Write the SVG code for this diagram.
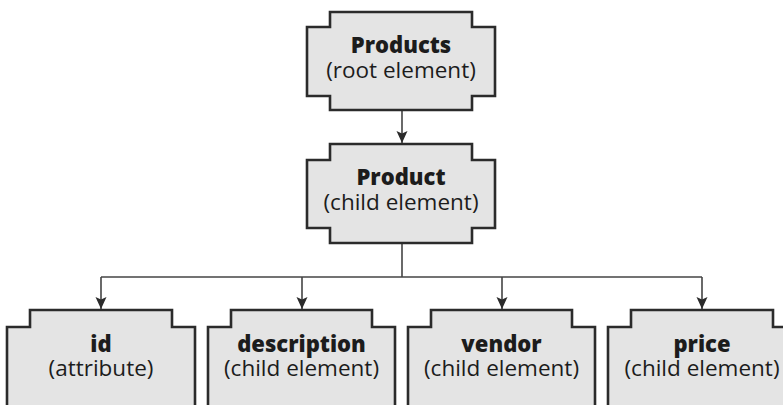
<svg xmlns="http://www.w3.org/2000/svg" width="783" height="405" viewBox="0 0 783 405">
  <defs>
    <style>
      .node { fill: #e4e4e4; stroke: #2b2b2b; stroke-width: 2.6; stroke-linejoin: miter; }
      .title { font-family: "Open Sans", "Noto Sans", sans-serif; font-weight: 800; font-size: 22px; fill: #1c1c1c; text-anchor: middle; }
      .sub { font-family: "Open Sans", "Noto Sans", sans-serif; font-size: 22.5px; fill: #1c1c1c; text-anchor: middle; }
      .link { fill: none; stroke: #444; stroke-width: 1.6; }
    </style>
    <marker id="arrow" viewBox="0 0 12 12" refX="12" refY="6" markerWidth="12" markerHeight="12" markerUnits="userSpaceOnUse" orient="auto">
      <path d="M0,0.5 L12,6 L0,11.5 L2.5,6 Z" fill="#2b2b2b"/>
    </marker>
  </defs>

  <!-- connectors -->
  <g id="connectors">
    <path class="link" d="M402,111 V143" marker-end="url(#arrow)"/>
    <path class="link" d="M402,244 V277"/>
    <path class="link" d="M101,277 H702"/>
    <path class="link" d="M101,277 V309" marker-end="url(#arrow)"/>
    <path class="link" d="M302,277 V309" marker-end="url(#arrow)"/>
    <path class="link" d="M502,277 V309" marker-end="url(#arrow)"/>
    <path class="link" d="M702,277 V309" marker-end="url(#arrow)"/>
  </g>

  <g id="products">
    <path class="node" d="M330,12 H472 V27 H495 V96 H472 V110 H330 V96 H307 V27 H330 Z"/>
    <text class="title" x="401" y="53">Products</text>
    <text class="sub" x="401" y="78">(root element)</text>
  </g>

  <g id="product">
    <path class="node" d="M330,144 H472 V160 H495 V228 H472 V243 H330 V228 H307 V160 H330 Z"/>
    <text class="title" x="401" y="185">Product</text>
    <text class="sub" x="401" y="210">(child element)</text>
  </g>

  <g id="id">
    <path class="node" d="M30,310 H172 V327 H195 V420 H7 V327 H30 Z"/>
    <text class="title" x="101" y="352">id</text>
    <text class="sub" x="101" y="376">(attribute)</text>
  </g>

  <g id="description">
    <path class="node" d="M231,310 H372 V327 H395 V420 H208 V327 H231 Z"/>
    <text class="title" x="301.5" y="352">description</text>
    <text class="sub" x="301.5" y="376">(child element)</text>
  </g>

  <g id="vendor">
    <path class="node" d="M431,310 H572 V327 H595 V420 H408 V327 H431 Z"/>
    <text class="title" x="501.5" y="352">vendor</text>
    <text class="sub" x="501.5" y="376">(child element)</text>
  </g>

  <g id="price">
    <path class="node" d="M631,310 H773 V327 H796 V420 H608 V327 H631 Z"/>
    <text class="title" x="702" y="352">price</text>
    <text class="sub" x="702" y="376">(child element)</text>
  </g>
</svg>
